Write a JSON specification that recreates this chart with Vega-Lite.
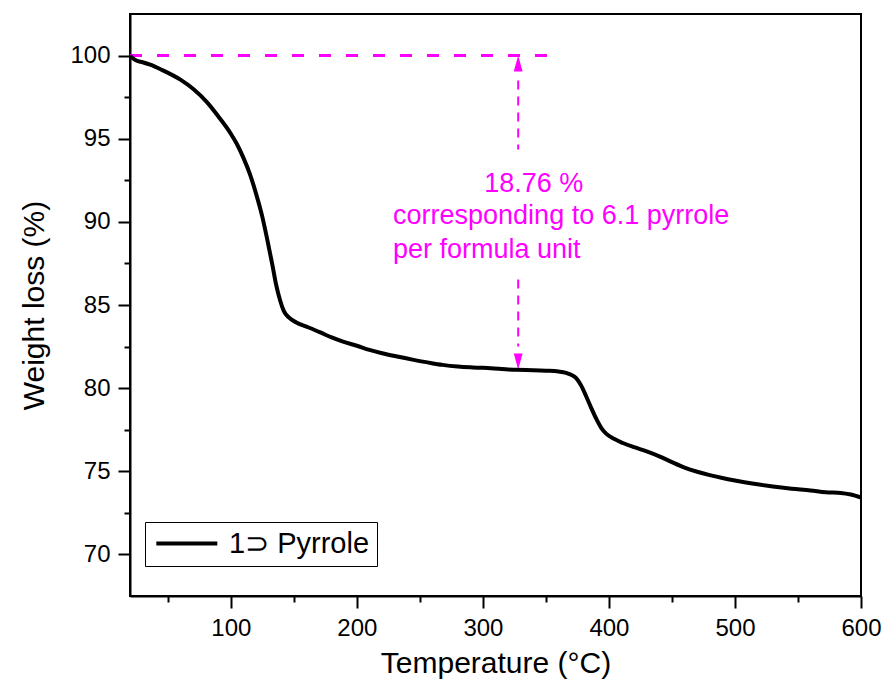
{
  "$schema": "https://vega.github.io/schema/vega-lite/v6.json",
  "width": 731,
  "height": 582,
  "autosize": {"type": "none"},
  "padding": {"left": 130, "top": 14, "right": 21, "bottom": 90},
  "background": "white",
  "config": {
    "font": "Liberation Sans",
    "view": {"stroke": "black", "strokeWidth": 2},
    "axis": {
      "domainColor": "black", "domainWidth": 2, "tickColor": "black", "tickWidth": 2,
      "labelColor": "black", "labelFontSize": 24, "titleColor": "black", "titleFontSize": 30,
      "titleFontWeight": "normal", "grid": false, "labelFont": "Liberation Sans", "titleFont": "Liberation Sans"
    }
  },
  "datasets": {
    "curve": [
      {"T": 20, "W": 100}, {"T": 22, "W": 99.85}, {"T": 25, "W": 99.7}, {"T": 30, "W": 99.6},
      {"T": 36, "W": 99.45}, {"T": 45, "W": 99.15}, {"T": 60, "W": 98.55}, {"T": 70, "W": 98.0},
      {"T": 81, "W": 97.2}, {"T": 90, "W": 96.35}, {"T": 100, "W": 95.3}, {"T": 105, "W": 94.65},
      {"T": 110, "W": 93.85}, {"T": 115, "W": 92.9}, {"T": 120, "W": 91.7}, {"T": 125, "W": 90.3},
      {"T": 129, "W": 88.9}, {"T": 133, "W": 87.4}, {"T": 136, "W": 86.2}, {"T": 139, "W": 85.3},
      {"T": 142, "W": 84.65}, {"T": 146, "W": 84.25}, {"T": 152, "W": 83.95}, {"T": 160, "W": 83.7},
      {"T": 171, "W": 83.35}, {"T": 180, "W": 83.05}, {"T": 189, "W": 82.8}, {"T": 200, "W": 82.55},
      {"T": 210, "W": 82.3}, {"T": 220, "W": 82.1}, {"T": 232, "W": 81.9}, {"T": 245, "W": 81.7},
      {"T": 256, "W": 81.55}, {"T": 268, "W": 81.4}, {"T": 280, "W": 81.3}, {"T": 290, "W": 81.25},
      {"T": 300, "W": 81.22}, {"T": 315, "W": 81.15}, {"T": 327, "W": 81.1}, {"T": 340, "W": 81.08},
      {"T": 350, "W": 81.05}, {"T": 360, "W": 81.0}, {"T": 366, "W": 80.92}, {"T": 370, "W": 80.8},
      {"T": 374, "W": 80.6}, {"T": 378, "W": 80.15}, {"T": 382, "W": 79.5}, {"T": 386, "W": 78.8},
      {"T": 390, "W": 78.15}, {"T": 394, "W": 77.6}, {"T": 398, "W": 77.25}, {"T": 404, "W": 76.95},
      {"T": 411, "W": 76.7}, {"T": 420, "W": 76.45}, {"T": 430, "W": 76.2}, {"T": 440, "W": 75.9},
      {"T": 450, "W": 75.55}, {"T": 460, "W": 75.22}, {"T": 470, "W": 74.97}, {"T": 480, "W": 74.77},
      {"T": 490, "W": 74.6}, {"T": 500, "W": 74.45}, {"T": 515, "W": 74.25}, {"T": 530, "W": 74.08},
      {"T": 545, "W": 73.95}, {"T": 560, "W": 73.85}, {"T": 572, "W": 73.74}, {"T": 584, "W": 73.7},
      {"T": 592, "W": 73.6}, {"T": 600, "W": 73.42}
    ]
  },
  "layer": [
    {
      "data": {"values": [{"x": 20, "x2": 353, "y": 100}]},
      "mark": {"type": "rule", "color": "#FF00FF", "strokeWidth": 3, "strokeDash": [12, 15]},
      "encoding": {
        "x": {"field": "x", "type": "quantitative"},
        "x2": {"field": "x2"},
        "y": {"field": "y", "type": "quantitative"}
      }
    },
    {
      "data": {"values": [{"x": 328, "y": 98.5, "y2": 94.35}, {"x": 328, "y": 86.53, "y2": 82.5}]},
      "mark": {"type": "rule", "color": "#FF00FF", "strokeWidth": 2, "strokeDash": [9, 7]},
      "encoding": {
        "x": {"field": "x", "type": "quantitative"},
        "y": {"field": "y", "type": "quantitative"},
        "y2": {"field": "y2"}
      }
    },
    {
      "data": {"values": [{"x": 328, "y": 100}]},
      "mark": {"type": "point", "filled": true, "color": "#FF00FF", "opacity": 1, "size": 256, "shape": "M0,0L0.55,2L-0.55,2Z"},
      "encoding": {
        "x": {"field": "x", "type": "quantitative"},
        "y": {"field": "y", "type": "quantitative"}
      }
    },
    {
      "data": {"values": [{"x": 328, "y": 81.12}]},
      "mark": {"type": "point", "filled": true, "color": "#FF00FF", "opacity": 1, "size": 256, "shape": "M0,0L0.55,-2L-0.55,-2Z"},
      "encoding": {
        "x": {"field": "x", "type": "quantitative"},
        "y": {"field": "y", "type": "quantitative"}
      }
    },
    {
      "data": {"values": [
        {"x": 301, "y": 91.82, "label": "18.76 %"},
        {"x": 228.7, "y": 89.9, "label": "corresponding to 6.1 pyrrole"},
        {"x": 228.7, "y": 87.85, "label": "per formula unit"}
      ]},
      "mark": {"type": "text", "color": "#FF00FF", "fontSize": 27, "align": "left", "baseline": "alphabetic", "font": "Liberation Sans"},
      "encoding": {
        "x": {"field": "x", "type": "quantitative"},
        "y": {"field": "y", "type": "quantitative"},
        "text": {"field": "label"}
      }
    },
    {
      "data": {"name": "curve"},
      "transform": [{"calculate": "'1⊃ Pyrrole'", "as": "series"}],
      "mark": {"type": "line", "strokeWidth": 4, "strokeJoin": "round", "interpolate": "monotone"},
      "encoding": {
        "x": {
          "field": "T", "type": "quantitative",
          "scale": {"domain": [20, 600], "nice": false, "zero": false},
          "axis": {
            "title": "Temperature (°C)",
            "values": [50, 100, 150, 200, 250, 300, 350, 400, 450, 500, 550, 600],
            "labelExpr": "datum.value % 100 === 0 ? datum.label : ''",
            "tickSize": {"condition": {"test": "datum.value % 100 === 0", "value": 12}, "value": 6},
            "labelPadding": 8, "titlePadding": 8, "labelFlush": false
          }
        },
        "y": {
          "field": "W", "type": "quantitative",
          "scale": {"domain": [67.5, 102.5], "nice": false, "zero": false},
          "axis": {
            "title": "Weight loss (%)",
            "values": [70, 72.5, 75, 77.5, 80, 82.5, 85, 87.5, 90, 92.5, 95, 97.5, 100],
            "labelExpr": "datum.value % 5 === 0 ? datum.label : ''",
            "tickSize": {"condition": {"test": "datum.value % 5 === 0", "value": 12}, "value": 6},
            "labelPadding": 8, "titlePadding": 20
          }
        },
        "color": {
          "field": "series", "type": "nominal",
          "scale": {"range": ["black"]},
          "legend": {
            "title": null, "orient": "none", "legendX": 15, "legendY": 508,
            "strokeColor": "black", "padding": 7, "cornerRadius": 0,
            "symbolType": "M-1,0L5,0", "symbolSize": 413, "symbolStrokeWidth": 4,
            "labelFontSize": 29, "labelColor": "black", "labelOffset": 48, "labelFont": "Liberation Sans",
            "fillColor": "white"
          }
        }
      }
    }
  ]
}
